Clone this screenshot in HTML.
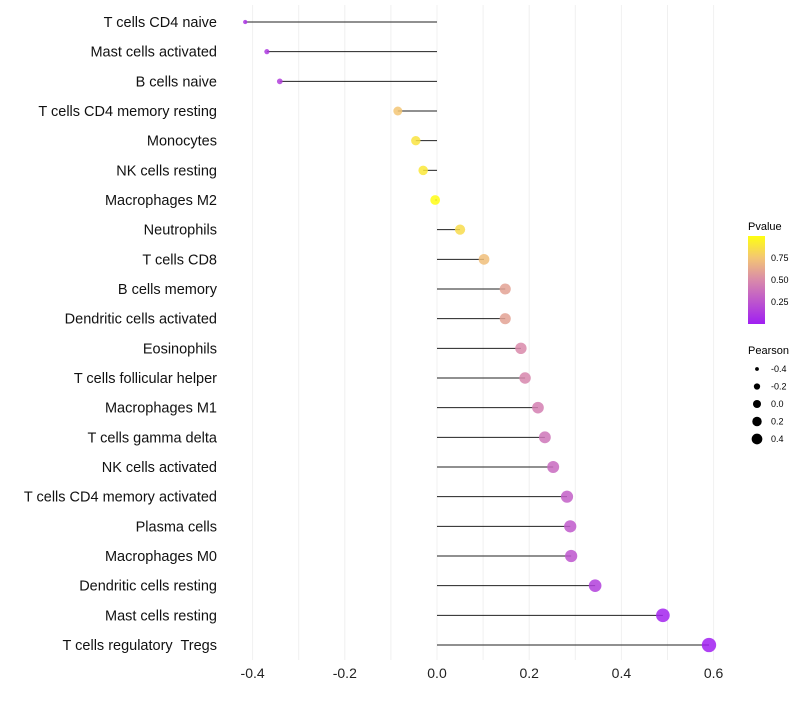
<!DOCTYPE html>
<html><head><meta charset="utf-8"><style>
body{margin:0;background:#fff;font-family:"Liberation Sans",sans-serif}
text{white-space:pre}
</style></head><body>
<svg id="c" width="800" height="700" xmlns="http://www.w3.org/2000/svg">
<defs><linearGradient id="pg" x1="0" y1="1" x2="0" y2="0">
<stop offset="0" stop-color="#a01ff2"/><stop offset="0.5" stop-color="#d98aaa"/><stop offset="0.75" stop-color="#f3c574"/><stop offset="1" stop-color="#ffff10"/>
</linearGradient></defs>
<g id="grid"></g><g id="marks"></g><g id="labels"></g>
<g>
<text x="748" y="230" font-size="11">Pvalue</text>
<rect x="748" y="236" width="17" height="88" fill="url(#pg)"/>
<text x="771" y="261" font-size="9">0.75</text>
<text x="771" y="283" font-size="9">0.50</text>
<text x="771" y="305" font-size="9">0.25</text>
</g>
<g id="sizeleg">
<text x="748" y="354" font-size="11">Pearson</text>
</g>
</svg>
<script>
const categories=["T cells CD4 naive","Mast cells activated","B cells naive","T cells CD4 memory resting","Monocytes","NK cells resting","Macrophages M2","Neutrophils","T cells CD8","B cells memory","Dendritic cells activated","Eosinophils","T cells follicular helper","Macrophages M1","T cells gamma delta","NK cells activated","T cells CD4 memory activated","Plasma cells","Macrophages M0","Dendritic cells resting","Mast cells resting","T cells regulatory  Tregs"];
const pearson=[-0.416,-0.369,-0.341,-0.085,-0.046,-0.030,-0.004,0.050,0.102,0.148,0.148,0.182,0.191,0.219,0.234,0.252,0.282,0.289,0.291,0.343,0.490,0.590];
const pvalue=[0.10,0.12,0.15,0.75,0.88,0.90,0.99,0.85,0.72,0.60,0.60,0.50,0.48,0.45,0.40,0.35,0.30,0.27,0.25,0.15,0.03,0.005];
const xticks=[-0.4,-0.2,0.0,0.2,0.4,0.6];
const sizeLegend=[-0.4,-0.2,0.0,0.2,0.4];
const NS="http://www.w3.org/2000/svg";
const X=v=>437+v*461;
const Y=i=>22+i*29.667;
const R=v=>Math.sqrt(Math.max(2.5,24+46.5*v));
const stops=[[0,[160,31,242]],[0.5,[217,138,170]],[0.75,[243,197,116]],[1,[255,255,16]]];
function col(p){for(let k=1;k<stops.length;k++){if(p<=stops[k][0]){const a=stops[k-1],b=stops[k],t=(p-a[0])/(b[0]-a[0]);return 'rgb('+a[1].map((c,j)=>Math.round(c+(b[1][j]-c)*t)).join(',')+')';}}return 'rgb(255,255,16)';}
function mk(t,at,parent){const e=document.createElementNS(NS,t);for(const k in at)e.setAttribute(k,at[k]);parent.appendChild(e);return e;}
const grid=document.getElementById('grid'),marks=document.getElementById('marks'),labels=document.getElementById('labels');
for(let v=-0.4;v<=0.61;v+=0.1){const g=mk('line',{x1:X(v),x2:X(v),y1:5,y2:660,stroke:'#f0f0f0','stroke-width':1},grid);

}
xticks.forEach(v=>{const t=mk('text',{x:X(v),y:678,'font-size':14,'text-anchor':'middle',fill:'#222'},labels);t.textContent=v.toFixed(1);

});
categories.forEach((c,i)=>{
const t=mk('text',{x:217,y:Y(i)+5,'font-size':14.5,'text-anchor':'end',fill:'#111'},labels);t.textContent=c;


const l=mk('line',{x1:X(0),x2:X(pearson[i]),y1:Y(i),y2:Y(i),stroke:'#222','stroke-width':1},marks);


const p=mk('circle',{cx:X(pearson[i]),cy:Y(i),r:R(pearson[i]),fill:col(pvalue[i]),'fill-opacity':0.85},marks);


});
const sl=document.getElementById('sizeleg');
sizeLegend.forEach((v,i)=>{const y=369+i*17.5;
const c=mk('circle',{cx:757,cy:y,r:R(v)*0.82,fill:'#000'},sl);


const t=mk('text',{x:771,y:y+3,'font-size':9},sl);t.textContent=v.toFixed(1);

});
</script>
</body></html>
